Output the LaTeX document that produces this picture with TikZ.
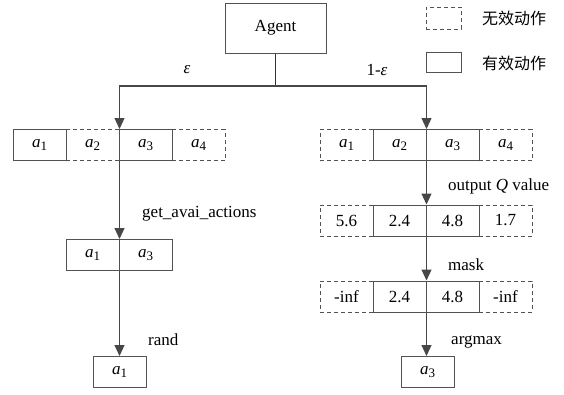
\documentclass[tikz,border=0pt]{standalone}
\usepackage{fontspec}
\setmainfont{Liberation Serif}
\newfontfamily\cjk{Noto Sans CJK SC}
\usetikzlibrary{arrows.meta}
\tikzset{
  cell/.style={draw=black!68, line width=1pt, minimum width=53pt, minimum height=31pt, inner sep=0pt},
  dcell/.style={cell, dash pattern=on 4pt off 3pt},
  arr/.style={draw=black!72, line width=1.2pt, -{Triangle[length=11pt,width=10pt]}},
  lbl/.style={anchor=west, inner sep=0pt},
}
\newcommand{\act}[1]{\textit{a}\raisebox{-0.35ex}{\fontsize{13}{13}\selectfont #1}}

\begin{document}
\begin{tikzpicture}[x=1pt, y=-1pt, font=\fontsize{17}{20}\selectfont]
	\useasboundingbox (0,0) rectangle (564,394);
	\node[cell, minimum width=101pt, minimum height=50pt] (agent) at (275.5,28) {Agent};
	% legend
	\node[dcell, minimum width=35pt, minimum height=22pt] (keyd) at (443.5,18) {};
	\node[cell, minimum width=35pt, minimum height=20pt] (keys) at (443.5,62.5) {};
	\node[lbl, font=\cjk\fontsize{16}{16}\selectfont] (keydtxt) at (482,18) {无效动作};
	\node[lbl, font=\cjk\fontsize{16}{16}\selectfont] (keystxt) at (482,63) {有效动作};
	% left branch
	\foreach \i/\x/\s/\t in {a/39.5/cell/\act{1}, b/92.5/dcell/\act{2}, c/145.5/cell/\act{3}, d/198.5/dcell/\act{4}}
		\node[\s] (l1\i) at (\x,145) {\t};
	\foreach \i/\x/\t in {a/92.5/\act{1}, b/145.5/\act{3}}
		\node[cell] (l2\i) at (\x,255) {\t};
	\node[cell] (lout) at (119.5,372) {\act{1}};
	% right branch
	\foreach \i/\x/\s/\t in {a/346.5/dcell/\act{1}, b/399.5/cell/\act{2}, c/452.5/cell/\act{3}, d/505.5/dcell/\act{4}}
		\node[\s] (r1\i) at (\x,145) {\t};
	\foreach \i/\x/\s/\t in {a/346.5/dcell/5.6, b/399.5/cell/2.4, c/452.5/cell/4.8, d/505.5/dcell/1.7}
		\node[\s] (r2\i) at (\x,220.5) {\t};
	\foreach \i/\x/\s/\t in {a/346.5/dcell/-inf, b/399.5/cell/2.4, c/452.5/cell/4.8, d/505.5/dcell/-inf}
		\node[\s] (r3\i) at (\x,296.5) {\t};
	\node[cell] (rout) at (427.5,372) {\act{3}};
	% connectors
	\coordinate (fork) at (agent.south |- 0,86);
	\draw[draw=black!80, line width=1.2pt] (agent.south) -- (fork);
	\draw[arr] (fork) -| (l1b.north east);
	\draw[arr] (fork) -| (r1b.north east);
	\draw[arr] (l1b.south east) -- (l2a.north east);
	\draw[arr] (l2a.south east) -- (lout.north -| l2a.east);
	\draw[arr] (r1b.south east) -- (r2b.north east);
	\draw[arr] (r2b.south east) -- (r3b.north east);
	\draw[arr] (r3b.south east) -- (rout.north -| r3b.east);
	% labels
	\node (eps) at (187,70) {\textit{ε}};
	\node (oneeps) at (377,70) {1-\textit{ε}};
	\node[lbl] (getlbl) at (142,214) {get\_avai\_actions};
	\node[lbl] (randlbl) at (148,340) {rand};
	\node[lbl] (qlbl) at (448,186) {output \textit{Q} value};
	\node[lbl] (masklbl) at (448,265) {mask};
	\node[lbl] (argmaxlbl) at (451,342) {argmax};
\end{tikzpicture}
\end{document}
